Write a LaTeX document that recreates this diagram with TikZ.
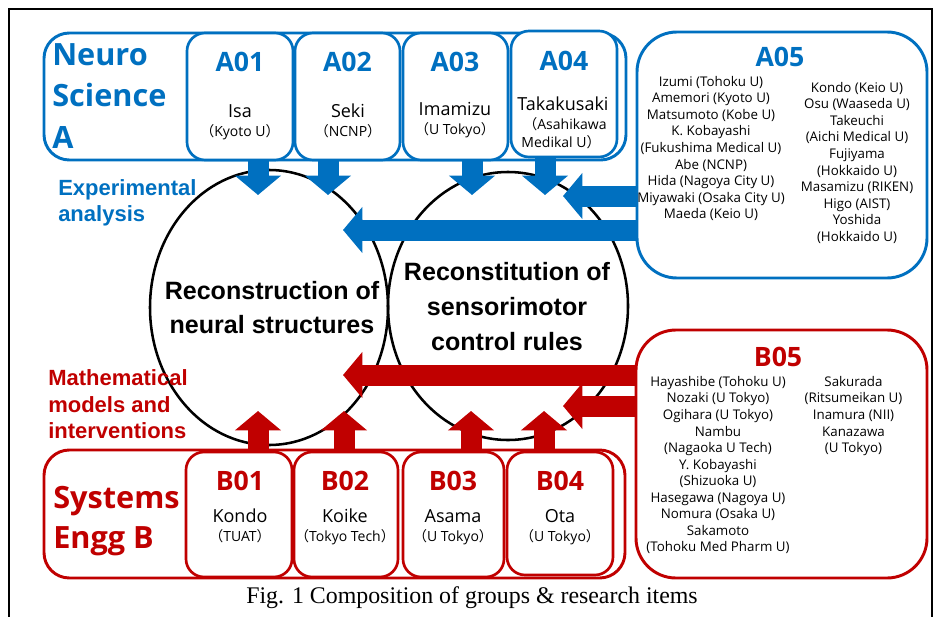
\documentclass[tikz,border=0pt]{standalone}
\usepackage{fontspec}
\setmainfont{Open Sans}
\newfontfamily\arialf{Liberation Sans}
\newfontfamily\timesf{Liberation Serif}
\newfontfamily\cjk{Noto Sans CJK JP}
\usetikzlibrary{arrows.meta,shapes.geometric}
\definecolor{myblue}{HTML}{0070C0}
\definecolor{myred}{HTML}{C00000}
\newcommand\lp{{\cjk （}}
\newcommand\rp{{\cjk ）}}
\begin{document}
\begin{tikzpicture}[x=0.75pt,y=-0.75pt]
\tikzset{
 bigbox/.style={draw, rounded corners=19pt, line width=2.2pt, fill=white, inner sep=0pt},
 subbox/.style={draw, rounded corners=13.5pt, line width=2pt, fill=white, inner sep=0pt},
 teambox/.style={draw, rounded corners=30pt, line width=2.2pt, fill=white, inner sep=0pt},
 elli/.style={ellipse, draw=black, line width=1.9pt, inner sep=0pt},
 hdr/.style={font=\bfseries\fontsize{20}{24}\selectfont, anchor=base, inner sep=0pt},
 who/.style={font=\fontsize{13.5}{16}\selectfont, anchor=base, inner sep=0pt},
 inst/.style={font=\fontsize{10.5}{13}\selectfont, anchor=base, inner sep=0pt},
 bigtxt/.style={font=\bfseries\fontsize{23}{28}\selectfont, anchor=base west, inner sep=0pt},
 side/.style={font=\arialf\bfseries\fontsize{16.5}{20}\selectfont, anchor=base west, inner sep=0pt},
 core/.style={font=\arialf\bfseries\fontsize{18.8}{22}\selectfont, anchor=base, inner sep=0pt},
 namelist/.style={font=\fontsize{10}{12.4}\selectfont, align=center, anchor=north, inner sep=0pt},
 fat/.style={line width=15.75pt, -{Triangle[length=14.5pt,width=33.75pt]}},
}
\useasboundingbox (0,0) rectangle (938,617);
% outer frame
\draw[line width=1.5pt] (9,617) -- (9,9) -- (932,9) -- (932,617);

% ellipses
\node[elli, minimum width=178.5pt, minimum height=206.25pt] (e1) at (269,307.5) {};
\node[elli, minimum width=180pt, minimum height=201pt] (e2) at (508,306) {};

% group boxes
\node[bigbox, draw=myblue, minimum width=436.5pt, minimum height=95.25pt] (grpA) at (335,96.5) {};
\node[subbox, draw=myblue, minimum width=79.5pt, minimum height=95.25pt] (a01) at (240,96.5) {};
\node[subbox, draw=myblue, minimum width=78.75pt, minimum height=95.25pt] (a02) at (347.5,96.5) {};
\node[subbox, draw=myblue, minimum width=78.75pt, minimum height=95.25pt] (a03) at (455.5,96.5) {};
\node[subbox, draw=myblue, minimum width=79.5pt, minimum height=94.5pt] (a04) at (564,94) {};

\node[bigbox, draw=myred, minimum width=435.75pt, minimum height=96pt] (grpB) at (334.5,514) {};
\node[subbox, draw=myred, minimum width=79.5pt, minimum height=93.75pt] (b01) at (239,514.5) {};
\node[subbox, draw=myred, minimum width=78pt, minimum height=93.75pt] (b02) at (346,514.5) {};
\node[subbox, draw=myred, minimum width=75.75pt, minimum height=93.75pt] (b03) at (453.5,514.5) {};
\node[subbox, draw=myred, minimum width=79.5pt, minimum height=92.25pt] (b04) at (560,513.5) {};

\node[teambox, draw=myblue, minimum width=217.5pt, minimum height=184.5pt] (a05) at (782,155) {};
\node[teambox, draw=myred, minimum width=218.25pt, minimum height=186pt] (b05) at (781.5,454) {};

% arrow tips
\coordinate (d1) at (258,195);
\coordinate (d2) at (328,195);
\coordinate (d3) at (472,195);
\coordinate (d4) at (545,195);
\coordinate (u1) at (258,411);
\coordinate (u2) at (344,411);
\coordinate (u3) at (471,411);
\coordinate (u4) at (544,411);
\coordinate (h1) at (563,196);
\coordinate (h2) at (343,230);
\coordinate (h3) at (343,375);
\coordinate (h4) at (563,406);

\draw[fat, myblue] (a01.south -| d1) -- (d1);
\draw[fat, myblue] (a02.south -| d2) -- (d2);
\draw[fat, myblue] (a03.south -| d3) -- (d3);
\draw[fat, myblue] (a04.south -| d4) -- (d4);
\draw[fat, myblue] (a05.west |- h1) -- (h1);
\draw[fat, myblue] (a05.west |- h2) -- (h2);
\draw[fat, myred] (grpB.north -| u1) -- (u1);
\draw[fat, myred] (grpB.north -| u2) -- (u2);
\draw[fat, myred] (grpB.north -| u3) -- (u3);
\draw[fat, myred] (grpB.north -| u4) -- (u4);
\draw[fat, myred] (b05.west |- h3) -- (h3);
\draw[fat, myred] (b05.west |- h4) -- (h4);

% group titles
\node[bigtxt, text=myblue] (ta1) at (52,65) {Neuro};
\node[bigtxt, text=myblue] (ta2) at (52,106) {Science};
\node[bigtxt, text=myblue] (ta3) at (52,148) {A};
\node[bigtxt, text=myred] (tb1) at (53,508) {Systems};
\node[bigtxt, text=myred] (tb2) at (53,548) {Engg B};

% A row texts
\node[hdr, text=myblue] (ha1) at (240,72) {A01};
\node[hdr, text=myblue] (ha2) at (347.5,72) {A02};
\node[hdr, text=myblue] (ha3) at (455,71) {A03};
\node[hdr, text=myblue] (ha4) at (564,70) {A04};
\node[who] (wa1) at (240,117) {Isa};
\node[who] (wa2) at (348,117) {Seki};
\node[who] (wa3) at (455,115) {Imamizu};
\node[who] (wa4) at (563,110) {Takakusaki};
\node[inst] (ia1) at (240,136) {\lp Kyoto U\rp};
\node[inst] (ia2) at (348,136) {\lp NCNP\rp};
\node[inst] (ia3) at (455,134) {\lp U Tokyo\rp};
\node[inst] (ia4) at (565,129) {\lp Asahikawa};
\node[inst] (ia5) at (561,147) {Medikal U\rp};

% B row texts
\node[hdr, text=myred] (hb1) at (240,490) {B01};
\node[hdr, text=myred] (hb2) at (345,490) {B02};
\node[hdr, text=myred] (hb3) at (453,490) {B03};
\node[hdr, text=myred] (hb4) at (560,490) {B04};
\node[who] (wb1) at (240,522) {Kondo};
\node[who] (wb2) at (345,522) {Koike};
\node[who] (wb3) at (453,522) {Asama};
\node[who] (wb4) at (560,522) {Ota};
\node[inst] (ib1) at (240,541) {\lp TUAT\rp};
\node[inst] (ib2) at (345,541) {\lp Tokyo Tech\rp};
\node[inst] (ib3) at (453,541) {\lp U Tokyo\rp};
\node[inst] (ib4) at (560,541) {\lp U Tokyo\rp};

% A05 / B05
\node[hdr, text=myblue] (ha5) at (780,67) {A05};
\node[namelist] (la5) at (711,76) {Izumi (Tohoku U)\\Amemori (Kyoto U)\\Matsumoto (Kobe U)\\K. Kobayashi\\(Fukushima Medical U)\\Abe (NCNP)\\Hida (Nagoya City U)\\Miyawaki (Osaka City U)\\Maeda (Keio U)};
\node[namelist] (ra5) at (857,82) {Kondo (Keio U)\\Osu (Waaseda U)\\Takeuchi\\(Aichi Medical U)\\Fujiyama\\(Hokkaido U)\\Masamizu (RIKEN)\\Higo (AIST)\\Yoshida\\(Hokkaido U)};
\node[hdr, text=myred] (hb5) at (778,366) {B05};
\node[namelist] (lb5) at (718,376) {Hayashibe (Tohoku U)\\Nozaki (U Tokyo)\\Ogihara (U Tokyo)\\Nambu\\(Nagaoka U Tech)\\Y. Kobayashi\\(Shizuoka U)\\Hasegawa (Nagoya U)\\Nomura (Osaka U)\\Sakamoto\\(Tohoku Med Pharm U)};
\node[namelist] (rb5) at (853.5,376) {Sakurada\\(Ritsumeikan U)\\Inamura (NII)\\Kanazawa\\(U Tokyo)};

% side labels
\node[side, text=myblue] (s1) at (58,195) {Experimental};
\node[side, text=myblue] (s2) at (58,221) {analysis};
\node[side, text=myred] (s3) at (48,385) {Mathematical};
\node[side, text=myred] (s4) at (48,412) {models and};
\node[side, text=myred] (s5) at (48,438) {interventions};

% core texts
\node[core] (c1) at (272,299) {Reconstruction of};
\node[core] (c2) at (272,333) {neural structures};
\node[core] (c3) at (507,280) {Reconstitution of};
\node[core] (c4) at (507,315) {sensorimotor};
\node[core] (c5) at (507,350) {control rules};

% caption
\node[font=\timesf\fontsize{17.9}{21}\selectfont, anchor=base, inner sep=0pt] (cap) at (472,603) {Fig. 1 Composition of groups \& research items};
\end{tikzpicture}
\end{document}
